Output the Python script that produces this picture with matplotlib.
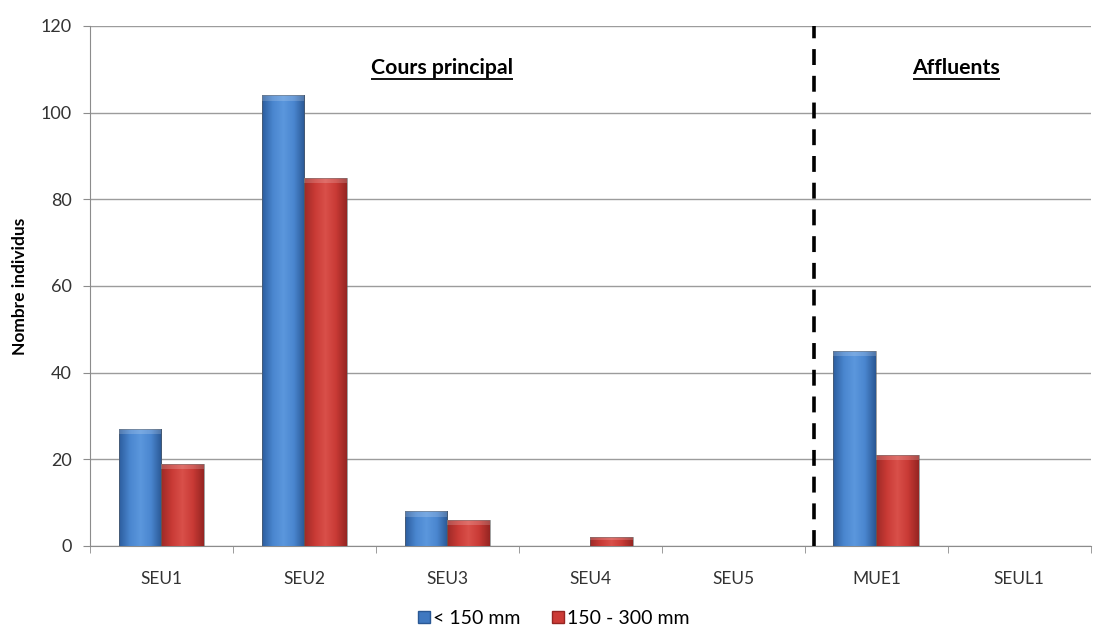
import numpy as np
import matplotlib
matplotlib.use("Agg")
import matplotlib.pyplot as plt
from matplotlib.colors import LinearSegmentedColormap
from matplotlib.lines import Line2D
from matplotlib.patches import Rectangle

plt.rcParams['font.family'] = ['Lato', 'DejaVu Sans']

categories = ["SEU1", "SEU2", "SEU3", "SEU4", "SEU5", "MUE1", "SEUL1"]
small_fish = [27, 104, 8, 0, 0, 45, 0]        # < 150 mm
medium_fish = [19, 85, 6, 2, 0, 21, 0]        # 150 - 300 mm
series_labels = ["< 150 mm", "150 - 300 mm"]
yticks = [0, 20, 40, 60, 80, 100, 120]

blue_map = LinearSegmentedColormap.from_list(
    "b", ["#2c5d9e", "#4a86cf", "#5b97dd", "#4a86cf", "#2a5894"])
red_map = LinearSegmentedColormap.from_list(
    "r", ["#9e2a27", "#c93a35", "#d9504a", "#c93a35", "#962522"])

fig = plt.figure(figsize=(10.93, 6.28), dpi=100)
ax = fig.add_axes([90 / 1093, 1 - 546 / 628, 1 - 90 / 1093 - 0.002, (546 - 26) / 628])

x = np.arange(len(categories))
w = 0.3
grad = np.linspace(0, 1, 64).reshape(1, -1)


def gradient_bar(xc, h, cmap):
    if h <= 0:
        return
    rect = Rectangle((xc - w / 2, 0), w, h, facecolor="none",
                     edgecolor="#5a5a5a", linewidth=0.4, zorder=4)
    ax.add_patch(rect)
    im = ax.imshow(grad, cmap=cmap, aspect="auto",
                   extent=(xc - w / 2, xc + w / 2, 0, h), zorder=3)
    im.set_clip_path(rect)
    # lighter bevel along the top edge
    bev = min(1.2, h * 0.3)
    ax.add_patch(Rectangle((xc - w / 2, h - bev), w, bev, facecolor="white",
                           alpha=0.18, edgecolor="none", zorder=4))


for xi, v in zip(x, small_fish):
    gradient_bar(xi - w / 2, v, blue_map)
for xi, v in zip(x, medium_fish):
    gradient_bar(xi + w / 2, v, red_map)

ax.set_xlim(-0.5, len(categories) - 0.5)
ax.set_ylim(0, 120)
ax.set_yticks(yticks)
ax.yaxis.grid(True, color="#9c9c9c", linewidth=1.0)
ax.set_axisbelow(True)

ax.set_xticks(x)
ax.set_xticklabels(categories)
ax.set_xticks(np.arange(-0.5, len(categories), 1.0), minor=True)
ax.tick_params(axis="x", which="major", length=0, pad=18, labelsize=12.5, colors="#333333")
ax.tick_params(axis="x", which="minor", length=5, color="#8c8c8c", direction="out")
ax.tick_params(axis="y", length=5, color="#8c8c8c", pad=8, labelsize=13, labelcolor="#333333")

for s in ["top", "right"]:
    ax.spines[s].set_visible(False)
for s in ["left", "bottom"]:
    ax.spines[s].set_color("#8c8c8c")

ax.set_ylabel("Nombre individus", fontsize=12.5, fontweight="bold", labelpad=9)

# separator between main channel and tributaries
ax.axvline(4.565, ymin=0, ymax=1, color="black", linewidth=2.6,
           linestyle=(0, (4.4, 3.0)), zorder=5)

titles = []
titles.append(ax.text(1.96, 110.3, "Cours principal", ha="center", va="center",
                      fontsize=15.3, fontweight="bold"))
titles.append(ax.text(5.56, 110.3, "Affluents", ha="center", va="center",
                      fontsize=15.3, fontweight="bold"))

fig.canvas.draw()
r = fig.canvas.get_renderer()
inv = ax.transData.inverted()
for t in titles:
    bb = t.get_window_extent(r)
    (x0, y0), (x1, _) = inv.transform([(bb.x0, bb.y0 - 1), (bb.x1, bb.y0)])
    ax.plot([x0, x1], [y0, y0], color="black", linewidth=1.3, clip_on=False,
            solid_capstyle="butt")

handles = [Line2D([], [], marker="s", linestyle="none", markersize=8,
                  markerfacecolor="#3f78c0", markeredgecolor="#2a5894"),
           Line2D([], [], marker="s", linestyle="none", markersize=8,
                  markerfacecolor="#cc3b36", markeredgecolor="#962522")]
fig.legend(handles, series_labels, loc="center", bbox_to_anchor=(0.505, 1 - 618 / 628),
           ncol=2, frameon=False, fontsize=14, handletextpad=0.0,
           columnspacing=1.4, handlelength=1.0)

fig.savefig("out.png", dpi=100, facecolor="white")
